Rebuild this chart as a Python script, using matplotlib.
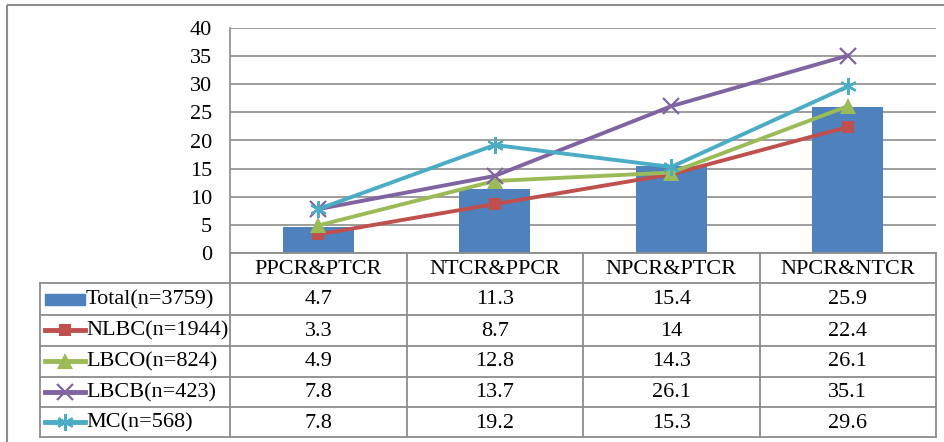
import numpy as np
import matplotlib
matplotlib.use("Agg")
import matplotlib.pyplot as plt
from matplotlib.patches import Rectangle

plt.rcParams['font.family'] = ['Liberation Serif', 'DejaVu Serif']

# data
categories = ['PPCR&PTCR', 'NTCR&PPCR', 'NPCR&PTCR', 'NPCR&NTCR']
total = [4.7, 11.3, 15.4, 25.9]
nlbc = [3.3, 8.7, 14, 22.4]
lbco = [4.9, 12.8, 14.3, 26.1]
lbcb = [7.8, 13.7, 26.1, 35.1]
mc = [7.8, 19.2, 15.3, 29.6]
series_names = ['Total(n=3759)', 'NLBC(n=1944)', 'LBCO(n=824)', 'LBCB(n=423)', 'MC(n=568)']
y_ticks = [0, 5, 10, 15, 20, 25, 30, 35, 40]

# styles
c_bar = '#4F81BD'
line_styles = [
    ('#C0504D', 's', 9),
    ('#9BBB59', '^', 11),
    ('#8064A2', 'x', 11),
    ('#4BACC6', (6, 2, 0), 12),
]
grid_c = '#8C8C8C'
fs = 16
W, H = 945, 442

fig = plt.figure(figsize=(W / 100, H / 100), dpi=100)

# pixel geometry
px_left, px_right = 230, 936
px_top, px_bot = 28, 253
ax = fig.add_axes([px_left / W, 1 - px_bot / H, (px_right - px_left) / W, (px_bot - px_top) / H])
x = np.arange(len(categories))
ax.bar(x, total, width=0.4, color=c_bar, zorder=2)
for vals, (col, mk, ms) in zip([nlbc, lbco, lbcb, mc], line_styles):
    ax.plot(x, vals, color=col, lw=2.8, marker=mk, ms=ms, mew=1.6 if mk not in ('s', '^') else 0,
            mec=col, mfc=col, zorder=3)
ax.set_xlim(-0.5, len(categories) - 0.5)
ax.set_ylim(0, 40)
ax.set_yticks(y_ticks)
ax.yaxis.grid(True, color=grid_c, lw=1.2, zorder=0)
ax.set_axisbelow(True)
ax.set_xticks([])
ax.tick_params(axis='y', length=0, pad=13, labelsize=fs)
for s in ['top', 'right', 'bottom']:
    ax.spines[s].set_visible(False)
ax.spines['left'].set_color(grid_c)
ax.spines['left'].set_linewidth(1.2)

# overlay for table, in pixel coordinates
ov = fig.add_axes([0, 0, 1, 1], facecolor='none')
ov.set_xlim(0, W)
ov.set_ylim(H, 0)
ov.axis('off')

tc = '#8C8C8C'
tlw = 1.3
# outer chart border
ov.add_patch(Rectangle((7, 5), W, H, fill=False, ec='#8C8C8C', lw=1.5))

col_edges = np.linspace(px_left, px_right, len(categories) + 1)
row_edges = [253, 283, 314.5, 345.5, 376.5, 407, 437]
lab_left = 40

# horizontal lines
ov.plot([px_left, px_right], [row_edges[0]] * 2, color=tc, lw=tlw)
for ry in row_edges[1:]:
    ov.plot([lab_left, px_right], [ry] * 2, color=tc, lw=tlw)
# vertical lines
for cx in col_edges:
    ov.plot([cx, cx], [row_edges[0], row_edges[-1]], color=tc, lw=tlw)
ov.plot([lab_left, lab_left], [row_edges[1], row_edges[-1]], color=tc, lw=tlw)

# header
for i, cat in enumerate(categories):
    cx = (col_edges[i] + col_edges[i + 1]) / 2
    ov.text(cx, (row_edges[0] + row_edges[1]) / 2 + 1, cat, ha='center', va='center', fontsize=fs)

# rows
all_vals = [total, nlbc, lbco, lbcb, mc]
for r, (name, vals) in enumerate(zip(series_names, all_vals)):
    cy = (row_edges[r + 1] + row_edges[r + 2]) / 2 + 1
    if r == 0:
        ov.add_patch(Rectangle((45, cy - 6), 40, 11, color=c_bar))
    else:
        col, mk, ms = line_styles[r - 1]
        ov.plot([45, 85], [cy - 1, cy - 1], color=col, lw=3.5)
        ov.plot([65], [cy - 1], color=col, marker=mk, ms=ms,
                mew=1.6 if mk not in ('s', '^') else 0, mec=col, mfc=col)
    ov.text(86, cy, name, ha='left', va='center', fontsize=fs)
    for i, v in enumerate(vals):
        cx = (col_edges[i] + col_edges[i + 1]) / 2
        ov.text(cx, cy, f'{v:g}', ha='center', va='center', fontsize=fs)

fig.savefig('out.png', dpi=100)
